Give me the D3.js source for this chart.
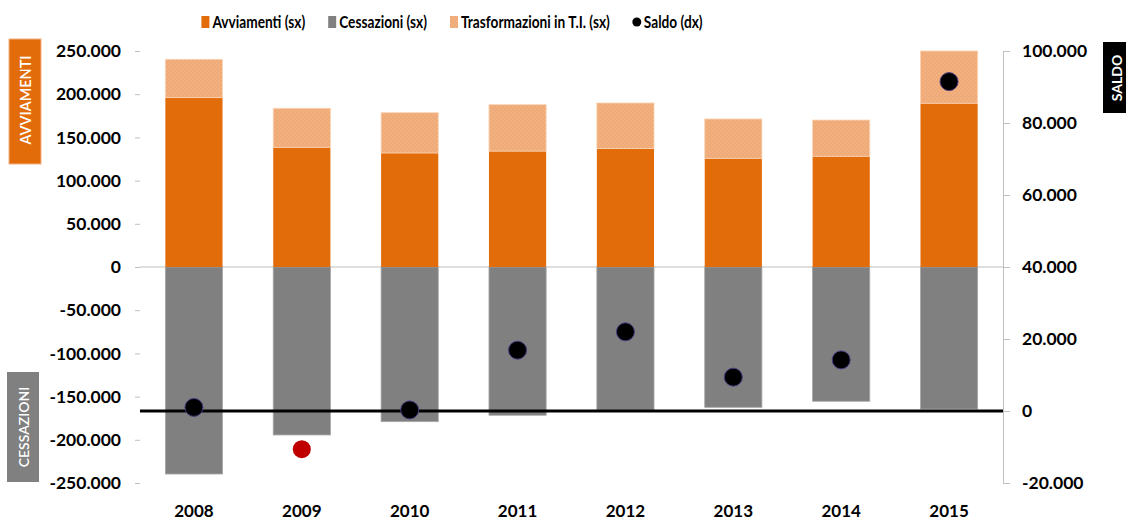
<!DOCTYPE html>
<html>
<head>
<meta charset="utf-8">
<script src="https://cdn.jsdelivr.net/npm/d3@7"></script>
<style>
  body { margin: 0; background: #fff; }
  svg { display: block; font-family: Lato, "Open Sans", sans-serif; }
</style>
</head>
<body>
<svg id="chart" width="1126" height="520"></svg>
<script>
const years = ["2008", "2009", "2010", "2011", "2012", "2013", "2014", "2015"];
const avviamenti = [196000, 138500, 131900, 134100, 137100, 125800, 128100, 189500];
const trasformazioni = [44400, 45200, 46700, 53800, 52700, 45500, 42000, 60500];
const cessazioni = [-239600, -194400, -179000, -171600, -165500, -162400, -155400, -164400];
const saldo = [1000, -10600, 300, 16900, 22000, 9400, 14200, 91500];
const leftTicks = [250000, 200000, 150000, 100000, 50000, 0, -50000, -100000, -150000, -200000, -250000];
const rightTicks = [100000, 80000, 60000, 40000, 20000, 0, -20000];
const legendItems = ["Avviamenti (sx)", "Cessazioni (sx)", "Trasformazioni in T.I. (sx)", "Saldo (dx)"];

const ORANGE = "#e36c0a", GREY = "#808080", LIGHT = "#f2b07f";

const it = d3.formatLocale({ decimal: ",", thousands: ".", grouping: [3], currency: ["€", ""], minus: "-" });
const fmt = it.format(",d");

const svg = d3.select("#chart");
const plotL = 140, plotR = 1003, plotT = 51, plotB = 483;

const x = d3.scaleBand().domain(years).range([plotL, plotR]).paddingInner(0.47).paddingOuter(0.235);
const yL = d3.scaleLinear().domain([-250000, 250000]).range([plotB, plotT]);
const yR = d3.scaleLinear().domain([-20000, 100000]).range([plotB, plotT]);

// checker pattern for the hatched series
const defs = svg.append("defs");
const pat = defs.append("pattern").attr("id", "chk").attr("width", 4).attr("height", 4)
  .attr("patternUnits", "userSpaceOnUse");
pat.append("rect").attr("width", 4).attr("height", 4).attr("fill", LIGHT);
pat.append("rect").attr("width", 2).attr("height", 2).attr("fill", "#eeaa78");
pat.append("rect").attr("x", 2).attr("y", 2).attr("width", 2).attr("height", 2).attr("fill", "#eeaa78");

// zero line of the left axis
svg.append("line")
  .attr("x1", plotL).attr("x2", plotR).attr("y1", yL(0)).attr("y2", yL(0))
  .attr("stroke", "#bfbfbf").attr("stroke-width", 1);

const rows = years.map((y, i) => ({ year: y, avv: avviamenti[i], tra: trasformazioni[i], ces: cessazioni[i], sal: saldo[i] }));

// bars
svg.append("g").selectAll("rect").data(rows).join("rect")
  .attr("x", d => x(d.year)).attr("width", x.bandwidth())
  .attr("y", d => yL(0)).attr("height", d => yL(d.ces) - yL(0))
  .attr("fill", GREY).attr("stroke", "#a6a6a6").attr("stroke-width", 0.8);

svg.append("g").selectAll("rect").data(rows).join("rect")
  .attr("x", d => x(d.year)).attr("width", x.bandwidth())
  .attr("y", d => yL(d.avv)).attr("height", d => yL(0) - yL(d.avv))
  .attr("fill", ORANGE);

svg.append("g").selectAll("rect").data(rows).join("rect")
  .attr("x", d => x(d.year)).attr("width", x.bandwidth())
  .attr("y", d => yL(d.avv + d.tra)).attr("height", d => yL(d.avv) - yL(d.avv + d.tra))
  .attr("fill", "url(#chk)").attr("stroke", "#fbd4b4").attr("stroke-width", 0.8);

// zero line of the right axis
svg.append("line")
  .attr("x1", plotL).attr("x2", plotR).attr("y1", yR(0)).attr("y2", yR(0))
  .attr("stroke", "#000").attr("stroke-width", 3);

// saldo dots
svg.append("g").selectAll("circle").data(rows).join("circle")
  .attr("cx", d => x(d.year) + x.bandwidth() / 2)
  .attr("cy", d => yR(d.sal))
  .attr("r", 9)
  .attr("fill", d => d.sal < 0 ? "#c00000" : "#000")
  .attr("stroke", d => d.sal < 0 ? "none" : "#4a3a80")
  .attr("stroke-width", 1);

// axes
const axL = svg.append("g").attr("transform", `translate(${plotL},0)`)
  .call(d3.axisLeft(yL).tickValues(leftTicks).tickFormat(fmt).tickSize(5).tickPadding(14));
axL.select(".domain").remove();

const axR = svg.append("g").attr("transform", `translate(${plotR},0)`)
  .call(d3.axisRight(yR).tickValues(rightTicks).tickFormat(fmt).tickSize(7).tickSizeOuter(0).tickPadding(12));
axR.select(".domain").attr("stroke", "#bfbfbf");

svg.selectAll(".tick line").attr("stroke", "#bfbfbf");
svg.selectAll(".tick text")
  .attr("font-family", "Lato, sans-serif").attr("font-size", 17.5).attr("font-weight", "bold")
  .attr("fill", "#000");

// category labels
svg.append("g").selectAll("text").data(years).join("text")
  .attr("x", d => x(d) + x.bandwidth() / 2).attr("y", 517)
  .attr("text-anchor", "middle")
  .attr("font-size", 17).attr("font-weight", "bold")
  .text(d => d);

// side tags
function tag(x0, y0, w, h, fill, label, size, weight, cx, cy) {
  svg.append("rect").attr("x", x0).attr("y", y0).attr("width", w).attr("height", h)
    .attr("fill", fill).attr("stroke", fill === ORANGE ? "#f4b183" : "none");
  svg.append("text")
    .attr("transform", `translate(${cx},${cy}) rotate(-90)`)
    .attr("text-anchor", "middle").attr("dominant-baseline", "central")
    .attr("fill", "#fff").attr("font-size", size).attr("font-weight", weight)
    .text(label);
}
tag(9, 39, 32, 125, ORANGE, "AVVIAMENTI", 14.5, 600, 25, 100);
tag(7, 372, 32, 110, GREY, "CESSAZIONI", 14, 600, 23, 427);
tag(1103, 42, 30, 71, "#000", "SALDO", 14, "bold", 1116, 78);

// legend (text condensed horizontally to mimic the narrow original face)
const lg = svg.append("g");
const swatches = [
  g => g.append("rect").attr("y", -12).attr("width", 8).attr("height", 12).attr("fill", ORANGE),
  g => g.append("rect").attr("y", -12).attr("width", 8).attr("height", 12).attr("fill", GREY),
  g => g.append("rect").attr("y", -12).attr("width", 8).attr("height", 12).attr("fill", "url(#chk)"),
  g => g.append("circle").attr("cx", 4).attr("cy", -6).attr("r", 4.5).attr("fill", "#000")
];
const squeeze = 0.83;
let cursor = 0;
legendItems.forEach((label, i) => {
  const g = lg.append("g").attr("transform", `translate(${cursor},0)`);
  swatches[i](g);
  const t = g.append("text").attr("transform", `translate(11,0) scale(${squeeze},1)`)
    .attr("font-size", 16.5).attr("font-weight", "bold").text(label);
  cursor += 11 + t.node().getComputedTextLength() * squeeze + 23;
});
const lgWidth = cursor - 23;
lg.attr("transform", `translate(${452 - lgWidth / 2},28)`);
</script>
</body>
</html>
